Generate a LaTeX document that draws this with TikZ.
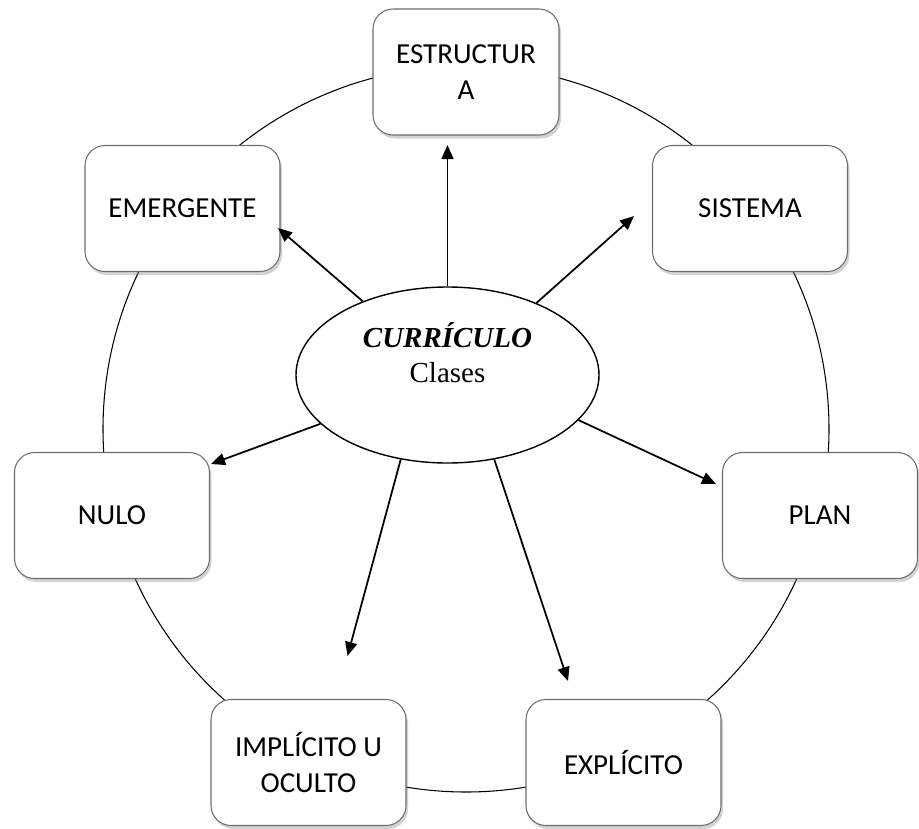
\documentclass[tikz,border=0pt]{standalone}
\usepackage{fontspec}
\setmainfont{Liberation Serif}
\newfontfamily\boxfont{Carlito}
\usetikzlibrary{shapes.geometric,arrows.meta,shadows}

\begin{document}
\begin{tikzpicture}[boxStyle/.style={draw=gray!85!black, line width=0.6pt, fill=white, rounded corners=0.4cm, minimum width=3.9cm, minimum height=2.52cm, align=center, font=\boxfont\fontsize{16.5}{20.4}\selectfont, drop shadow={shadow xshift=0.04cm, shadow yshift=-0.07cm, opacity=0.35}},
                    centerStyle/.style={ellipse, draw, line width=0.8pt, fill=white, minimum width=6.06cm, minimum height=3.52cm, inner sep=0pt, align=center, font=\fontsize{16.5}{19.8}\selectfont},
                    arrowStyle/.style={-{Triangle[length=0.28cm, width=0.24cm]}, line width=1pt}]
                    \useasboundingbox (0,0) rectangle (18.38,-16.56);
                    \coordinate (ctr) at (9.32,-8.58);
                    \draw[line width=0.6pt] (ctr) circle[radius=7.26cm];

                    \node[boxStyle, minimum width=3.72cm](estructura) at (9.32,-1.44) {ESTRUCTUR\\A};
                    \node[boxStyle](emergente) at (3.65,-4.17) {EMERGENTE};
                    \node[boxStyle](sistema) at (15.00,-4.17) {SISTEMA};
                    \node[boxStyle](nulo) at (2.24,-10.31) {NULO};
                    \node[boxStyle](plan) at (16.40,-10.31) {PLAN};
                    \node[boxStyle](implicito) at (6.17,-15.25) {IMPLÍCITO U\\OCULTO};
                    \node[boxStyle](explicito) at (12.47,-15.25) {EXPLÍCITO};

                    \node[centerStyle](curriculo) at (8.95,-7.50) {\strut\textbf{\textit{CURRÍCULO}}\\\strut Clases\\\strut};

                    \coordinate (tipEstructura) at (8.95,-2.90);
                    \coordinate (tipEmergente) at (5.56,-4.56);
                    \coordinate (tipSistema) at (12.68,-4.32);
                    \coordinate (tipNulo) at (4.22,-9.28);
                    \coordinate (tipPlan) at (14.32,-9.68);
                    \coordinate (tipImplicito) at (6.95,-13.12);
                    \coordinate (tipExplicito) at (11.36,-13.62);

                    \draw[arrowStyle] (curriculo.north) -- (tipEstructura);
                    \draw[arrowStyle] (curriculo.139) -- (tipEmergente);
                    \draw[arrowStyle] (curriculo.39) -- (tipSistema);
                    \draw[arrowStyle] (curriculo.201) -- (tipNulo);
                    \draw[arrowStyle] (curriculo.341) -- (tipPlan);
                    \draw[arrowStyle] (curriculo.241) -- (tipImplicito);
                    \draw[arrowStyle] (curriculo.299) -- (tipExplicito);
                \end{tikzpicture}
\end{document}
